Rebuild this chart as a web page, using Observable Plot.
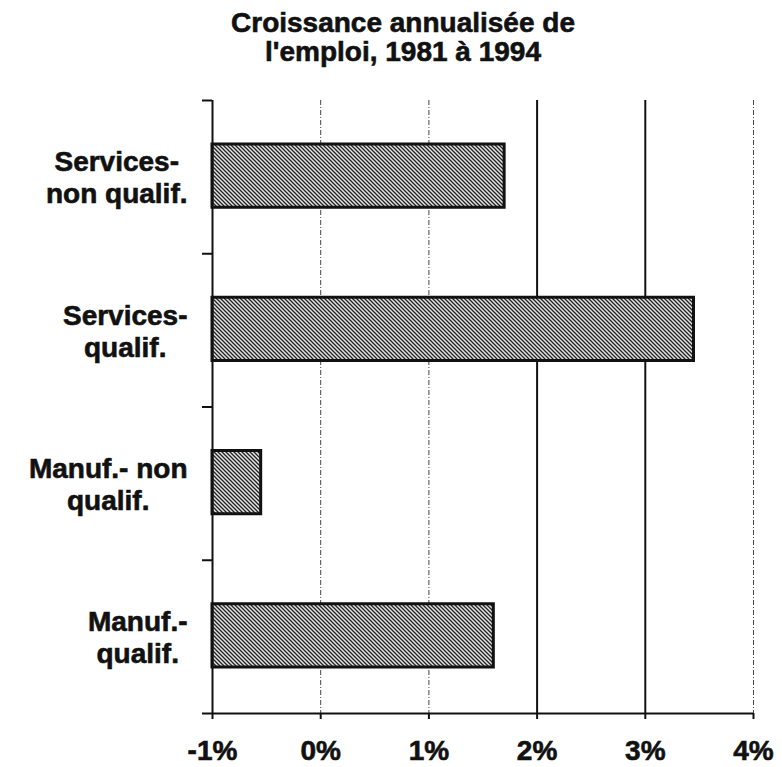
<!DOCTYPE html>
<html><head><meta charset="utf-8">
<script src="https://cdn.jsdelivr.net/npm/d3@7"></script>
<script src="https://cdn.jsdelivr.net/npm/@observablehq/plot@0.6"></script>
<style>
body{margin:0;background:#fff;}
#title{font-family:"Liberation Sans",Arial,sans-serif;font-weight:bold;font-size:28px;line-height:29px;text-align:center;padding:8px 0 0 24px;height:58px;width:758px;color:#111;-webkit-text-stroke:0.6px #111;}
#chart svg text{stroke:#111;stroke-width:0.6px;paint-order:stroke;}
</style></head><body>
<div id="title">Croissance annualisée de<br>l'emploi, 1981 à 1994</div>
<div id="chart"></div>
<script>
const categories = ["Services-\nnon qualif.", "Services-\nqualif.", "Manuf.- non\nqualif.", "Manuf.-\nqualif."];
const values = [1.70, 3.45, -0.55, 1.60];
const xTicks = [-1, 0, 1, 2, 3, 4];
const xTickLabels = ["-1%", "0%", "1%", "2%", "3%", "4%"];
const dashedGrid = [0, 1, 4];
const solidGrid = [2, 3];
const baseline = -1;

const rows = categories.map((c, i) => ({category: c, value: values[i], i}));
const FONT = "'Liberation Sans', Arial, sans-serif";

// measure the widest line of each label so lines can be centred in a right-aligned block
const ctx = document.createElement("canvas").getContext("2d");
ctx.font = "bold 28px 'Liberation Sans'";
const labelWidth = categories.map(c => Math.max(...c.split("\n").map(l => ctx.measureText(l).width)));

const defs = () => {
  const d = d3.create("svg:defs");
  const p = d.append("pattern").attr("id", "hatch").attr("patternUnits", "userSpaceOnUse")
    .attr("width", 4).attr("height", 4);
  p.append("rect").attr("width", 4).attr("height", 4).attr("fill", "#e4e4e4");
  p.append("path").attr("d", "M-1,-1L5,5M-1,3L1,5M3,-1L5,1")
    .attr("stroke", "#222").attr("stroke-width", 1.3);
  p.append("path").attr("d", "M-1,5L5,-1M-1,1L1,-1M3,5L5,3")
    .attr("stroke", "#888").attr("stroke-width", 0.5);
  return d.node();
};

const chart = Plot.plot({
  width: 782,
  height: 701,
  marginLeft: 212,
  marginRight: 29,
  marginTop: 34,
  marginBottom: 54,
  style: {fontFamily: FONT, fontSize: "28px", fontWeight: "bold", color: "#111", background: "#fff"},
  x: {domain: [-1, 4], label: null},
  y: {domain: [0, categories.length], reverse: true, label: null, axis: null},
  marks: [
    defs,
    Plot.ruleX(dashedGrid, {stroke: "#444", strokeWidth: 1, strokeDasharray: "5,2,1,2"}),
    Plot.ruleX(solidGrid, {stroke: "#111", strokeWidth: 2}),
    Plot.rectX(rows, {
      x1: baseline, x2: "value", y1: "i", y2: d => d.i + 1,
      insetTop: 44, insetBottom: 46,
      fill: "url(#hatch)", stroke: "#111", strokeWidth: 3
    }),
    Plot.ruleX([baseline], {stroke: "#111", strokeWidth: 2}),
    Plot.ruleY([categories.length], {stroke: "#111", strokeWidth: 2}),
    Plot.axisY({ticks: d3.range(categories.length + 1), tickSize: 10, tickFormat: () => "", strokeWidth: 2, stroke: "#111"}),
    Plot.axisX({ticks: xTicks, tickSize: 6, tickPadding: 21, strokeWidth: 2, stroke: "#111",
      tickFormat: d => xTickLabels[xTicks.indexOf(d)], fontSize: 28, fontWeight: "bold"}),
    ...rows.map((r, k) => Plot.text([r], {
      y: d => d.i + 0.5, text: "category", frameAnchor: "left",
      dx: -(25 + labelWidth[k] / 2), textAnchor: "middle", lineAnchor: "middle",
      lineHeight: 1.143, fontSize: 28, fontWeight: "bold", fill: "#111"
    }))
  ]
});
document.getElementById("chart").appendChild(chart);
</script>
</body></html>
